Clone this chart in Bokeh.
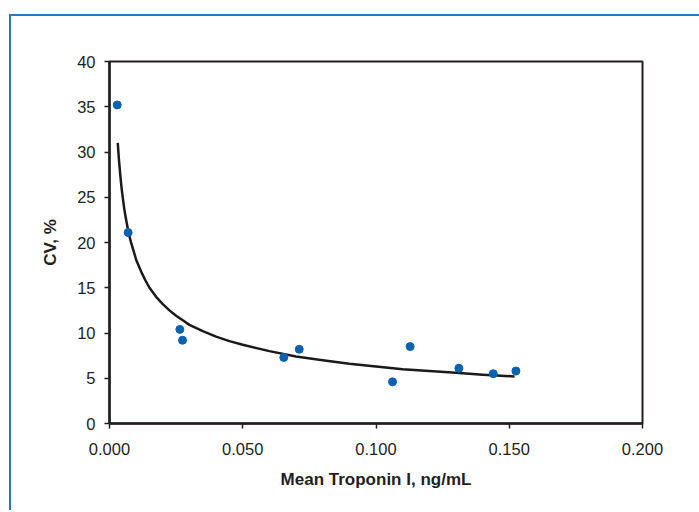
from bokeh.plotting import figure
from bokeh.models import Range1d, SingleIntervalTicker, NumeralTickFormatter
from bokeh.embed import file_html
from bokeh.resources import INLINE

# Measured points
troponin = [0.0029, 0.0070, 0.0264, 0.0274, 0.0654, 0.0712, 0.1062, 0.1128, 0.1311, 0.1440, 0.1525]
cv = [35.2, 21.1, 10.4, 9.2, 7.3, 8.2, 4.6, 8.5, 6.1, 5.5, 5.8]

# Trend line
trend_x = [0.0031, 0.0035, 0.004, 0.0045, 0.005, 0.0055, 0.006, 0.007, 0.008, 0.009, 0.010,
           0.011, 0.012, 0.0135, 0.015, 0.0175, 0.020, 0.0225, 0.025, 0.0275,
           0.030, 0.035, 0.040, 0.045, 0.050, 0.060, 0.070, 0.080, 0.090, 0.100, 0.110, 0.120,
           0.130, 0.140, 0.152]
trend_y = [31.0, 29.3, 27.6, 26.1, 24.9, 23.8, 22.9, 21.3, 20.1, 19.1, 18.1,
           17.4, 16.7, 15.8, 15.0, 14.0, 13.2, 12.5, 11.9, 11.4,
           10.9, 10.2, 9.6, 9.1, 8.7, 8.0, 7.4, 7.0, 6.6, 6.3, 6.0, 5.8,
           5.6, 5.4, 5.2]

x_ticks_interval = 0.05
y_ticks_interval = 5

FONT = "Liberation Sans"
TXT = "#231f20"

p = figure(width=688, height=494, output_backend="svg", toolbar_location=None,
           x_range=Range1d(0, 0.2), y_range=Range1d(0, 40),
           min_border_left=98, min_border_right=57, min_border_top=45, min_border_bottom=87,
           background_fill_color="white", border_fill_color="white")
p.frame_width = 533
p.frame_height = 362
p.styles = {"margin-left": "9px", "margin-top": "14px",
            "border-left": "2px solid #2a78c2", "border-top": "2px solid #2a78c2"}

p.grid.visible = False
p.outline_line_color = TXT
p.outline_line_width = 2

for ax in (p.xaxis[0], p.yaxis[0]):
    ax.axis_line_color = TXT
    ax.axis_line_width = 2.5
    ax.major_tick_line_color = TXT
    ax.major_tick_line_width = 1.5
    ax.major_tick_out = 5
    ax.major_tick_in = 0
    ax.minor_tick_line_color = None
    ax.major_label_text_font = FONT
    ax.major_label_text_font_size = "16.5px"
    ax.major_label_text_color = TXT
    ax.axis_label_text_font = FONT
    ax.axis_label_text_font_size = "17px"
    ax.axis_label_text_font_style = "bold"
    ax.axis_label_text_color = TXT

p.xaxis.ticker = SingleIntervalTicker(interval=x_ticks_interval)
p.yaxis.ticker = SingleIntervalTicker(interval=y_ticks_interval)
p.xaxis.formatter = NumeralTickFormatter(format="0.000")
p.xaxis.axis_label = "Mean Troponin I, ng/mL"
p.yaxis.axis_label = "CV, %"
p.xaxis.major_label_standoff = 14
p.yaxis.major_label_standoff = 9
p.xaxis.axis_label_standoff = 12
p.yaxis.axis_label_standoff = 14

p.line(trend_x, trend_y, line_color="#1a1a1a", line_width=2.5, line_join="round")
p.scatter(troponin, cv, size=8, fill_color="#0b62b0", line_color="#0b62b0")

open("out.html", "w").write(file_html(p, INLINE))
